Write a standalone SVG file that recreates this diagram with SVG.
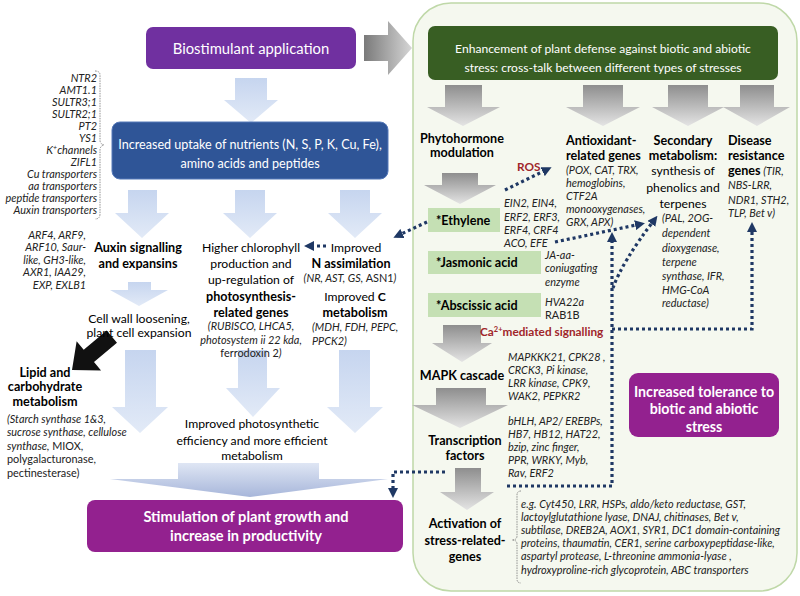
<svg xmlns="http://www.w3.org/2000/svg" width="800" height="596" viewBox="0 0 800 596">
<defs>
<linearGradient id="gBlue" x1="0" y1="0" x2="0" y2="1"><stop offset="0" stop-color="#c6d5ef"/><stop offset="1" stop-color="#e2eaf7"/></linearGradient>
<linearGradient id="gGrey" x1="0" y1="0" x2="0" y2="1"><stop offset="0" stop-color="#8e8e8e"/><stop offset="1" stop-color="#e4e4e4"/></linearGradient>
<linearGradient id="gGreyH" x1="0" y1="0" x2="1" y2="0"><stop offset="0" stop-color="#7a7a7a"/><stop offset="1" stop-color="#d6d6d6"/></linearGradient>
<linearGradient id="gWide" x1="0" y1="0" x2="0" y2="1"><stop offset="0" stop-color="#dfe6f4"/><stop offset="1" stop-color="#a7b6da"/></linearGradient>
<marker id="ah" viewBox="0 0 10 10" refX="6" refY="5" markerWidth="10" markerHeight="10" markerUnits="userSpaceOnUse" orient="auto"><path d="M0,0 L10,5 L0,10 z" fill="#1f3864"/></marker>
</defs>
<style>
text{font-family:Lato,'Open Sans',sans-serif;fill:#000}
.r{font-size:12.2px}
.b{font-size:12.6px;font-weight:bold}
.i{font-size:10.9px;font-style:italic;fill:#222}
.n{font-size:10.9px;fill:#222}
.m{text-anchor:middle}
.e{text-anchor:end}
.w{fill:#fff}
.red{fill:#a0262a;font-weight:bold;font-size:11.8px}
.lg{fill:#c5e0b4}
.hb{font-size:12.6px;font-weight:bold}
.dot{fill:none;stroke:#1f3864;stroke-width:3.2;stroke-dasharray:3 3}
.bl{fill:url(#gBlue)}
.gr{fill:url(#gGrey)}
.br{fill:none;stroke:#777;stroke-width:0.8;stroke-dasharray:1.5 1}
</style>

<g id="panel">
<rect x="413" y="3" width="384" height="588" rx="38" fill="#f5f8ef" stroke="#bfd8a8" stroke-width="1.5"/>
</g>

<g id="block-arrows">
<polygon points="364,35 388,35 388,21 412,48 388,75 388,61 364,61" fill="url(#gGreyH)"/>
<polygon class="bl" points="235,78 267,78 267,100 278,100 251,123 224,100 235,100"/>
<polygon class="bl" points="128,190 157,190 157,213 169,213 142,238 115,213 128,213"/>
<polygon class="bl" points="235,190 265,190 265,213 277,213 250,238 223,213 235,213"/>
<polygon class="bl" points="340,190 370,190 370,213 382,213 355,238 328,213 340,213"/>
<polygon class="bl" points="128,282 151,282 151,290 168,290 139,306 110,290 128,290"/>
<polygon class="bl" points="125,350 156,350 156,407 168,407 140,433 112,407 125,407"/>
<polygon class="bl" points="238,350 267,350 267,388 280,388 253,417 226,388 238,388"/>
<polygon class="bl" points="339,350 370,350 370,407 383,407 355,433 327,407 339,407"/>
<polygon points="178,463 319,463 319,479 388,479 250,497 110,479 178,479" fill="url(#gWide)"/>
<polygon points="0,0 22,-19 22,-8 52,-8 52,8 22,8 22,19" fill="#111" transform="translate(72,370) rotate(-40)"/>
<polygon class="gr" points="445,85 482,85 482,107 500,107 463,126 427,107 445,107"/>
<polygon class="gr" points="583,85 623,85 623,107 640,107 603,126 566,107 583,107"/>
<polygon class="gr" points="668,85 708,85 708,107 724,107 688,126 652,107 668,107"/>
<polygon class="gr" points="740,85 774,85 774,107 790,107 757,126 723,107 740,107"/>
<polygon class="gr" points="442,173 478,173 478,185 496,185 460,204 424,185 442,185"/>
<polygon class="gr" points="443,325 481,325 481,343 492,343 462,362 432,343 443,343"/>
<polygon class="gr" points="436,388 486,388 486,405 508,405 460,428 412,405 436,405"/>
<polygon class="gr" points="455,468 481,468 481,492 494,492 467,510 440,492 455,492"/>
</g>

<g id="biostimulant">
<rect x="146" y="27" width="210" height="42" rx="7" fill="#7030a0"/>
<text class="m w" x="251" y="54" style="font-size:14.8px">Biostimulant application</text>
</g>

<g id="uptake">
<rect x="112" y="122" width="276" height="57" rx="8" fill="#2f5597" stroke="#5478b8" stroke-width="1"/>
<text class="m w" x="250" y="149" style="font-size:12.6px">Increased uptake of nutrients (N, S, P, K, Cu, Fe),</text>
<text class="m w" x="250" y="168" style="font-size:12.6px">amino acids and peptides</text>
</g>

<g id="uptake-genes">
<text class="i e" x="97" y="81.5">NTR2</text>
<text class="i e" x="97" y="93.5">AMT1.1</text>
<text class="i e" x="97" y="105.5">SULTR3;1</text>
<text class="i e" x="97" y="117.5">SULTR2;1</text>
<text class="i e" x="97" y="129.5">PT2</text>
<text class="i e" x="97" y="141.5">YS1</text>
<text class="i e" x="97" y="153.5">K<tspan dy="-4" style="font-size:7px">+</tspan><tspan dy="4">channels</tspan></text>
<text class="i e" x="97" y="165.5">ZIFL1</text>
<text class="i e" x="97" y="177.5">Cu  transporters</text>
<text class="i e" x="97" y="189.5">aa transporters</text>
<text class="i e" x="97" y="201.5">peptide transporters</text>
<text class="i e" x="97" y="213.5">Auxin transporters</text>
<path class="br" d="M95,71 Q100,71 100,75 L100,140 Q100,144 104,145 Q100,146 100,150 L100,214 Q100,219 95,219"/>
</g>

<g id="auxin">
<text class="i e" x="86" y="238.5">ARF4, ARF9,</text>
<text class="i e" x="86" y="251">ARF10, Saur-</text>
<text class="i e" x="86" y="263.5">like, GH3-like,</text>
<text class="i e" x="86" y="276">AXR1, IAA29,</text>
<text class="i e" x="86" y="288.5">EXP, EXLB1</text>
<text class="b m" x="138" y="251.5">Auxin signalling</text>
<text class="b m" x="138" y="267.5">and expansins</text>
</g>

<g id="cellwall">
<text class="r m" x="139" y="322.5">Cell wall loosening,</text>
<text class="r m" x="139" y="336.5">plant cell expansion</text>
</g>

<g id="lipid">
<text class="b m" x="45" y="376.5">Lipid and</text>
<text class="b m" x="45" y="390.5">carbohydrate</text>
<text class="b m" x="45" y="405.5">metabolism</text>
<text class="i" x="7" y="422.5">(Starch synthase 1&amp;3,</text>
<text class="i" x="7" y="436">sucrose synthase, cellulose</text>
<text class="i" x="7" y="449.5">synthase,<tspan style="font-style:normal"> MIOX,</tspan></text>
<text class="n" x="7" y="463">polygalacturonase,</text>
<text class="n" x="7" y="476.5">pectinesterase)</text>
</g>

<g id="chlorophyll">
<text class="r m" x="251" y="251.5">Higher chlorophyll</text>
<text class="r m" x="251" y="267.5">production and</text>
<text class="r m" x="251" y="283.5">up-regulation of</text>
<text class="b m" x="251" y="300.5">photosynthesis-</text>
<text class="b m" x="251" y="316.5">related genes</text>
<text class="i m" x="251" y="330">(RUBISCO, LHCA5,</text>
<text class="i m" x="251" y="344">photosystem ii 22 kda,</text>
<text class="n m" x="251" y="357">ferrodoxin 2<tspan style="font-style:italic">)</tspan></text>
</g>

<g id="nc-assimilation">
<text class="r m" x="356" y="251.5">Improved</text>
<text class="b m" x="351" y="267.5">N assimilation</text>
<text class="i m" x="350" y="281.5">(NR, AST, GS, <tspan style="font-style:normal">ASN1</tspan>)</text>
<text class="r m" x="355" y="300.5">Improved <tspan style="font-weight:bold">C</tspan></text>
<text class="b m" x="355" y="316.5">metabolism</text>
<text class="i" x="312" y="331">(MDH, FDH, PEPC,</text>
<text class="i" x="312" y="344.5">PPCK2)</text>
</g>

<g id="photosynthetic">
<text class="r m" x="252" y="427.5">Improved photosynthetic</text>
<text class="r m" x="252" y="444.5">efficiency and more efficient</text>
<text class="r m" x="252" y="459.5">metabolism</text>
</g>

<g id="stimulation">
<rect x="87" y="500" width="316" height="52" rx="8" fill="#93218f"/>
<text class="m w" x="246" y="522" style="font-size:14.6px;font-weight:bold">Stimulation of plant growth and</text>
<text class="m w" x="246" y="541" style="font-size:14.6px;font-weight:bold">increase in productivity</text>
</g>

<g id="defense">
<rect x="428" y="26" width="350" height="54" rx="7" fill="#385e23"/>
<text class="m w" x="603" y="52.5" style="font-size:12.1px">Enhancement of plant defense against biotic and abiotic</text>
<text class="m w" x="603" y="71.5" style="font-size:12.1px">stress: cross-talk between different types of stresses</text>
</g>

<g id="phytohormone">
<text class="b m" x="462" y="142.5">Phytohormone</text>
<text class="b m" x="462" y="156.5">modulation</text>
</g>

<g id="antioxidant">
<text class="b" x="566" y="144.5">Antioxidant-</text>
<text class="b" x="566" y="159.5">related genes</text>
<text class="i" x="566" y="173.5">(POX, CAT, TRX,</text>
<text class="i" x="566" y="186.5">hemoglobins,</text>
<text class="i" x="566" y="199.5">CTF2A</text>
<text class="i" x="566" y="212.5">monooxygenases,</text>
<text class="i" x="566" y="225.5">GRX, APX)</text>
</g>

<g id="secondary">
<text class="b m" x="683" y="144.5">Secondary</text>
<text class="b m" x="683" y="159.5">metabolism:</text>
<text class="r m" x="683" y="174.5">synthesis of</text>
<text class="r m" x="683" y="191.5">phenolics and</text>
<text class="r m" x="683" y="207.5">terpenes</text>
<text class="i" x="662" y="221.5">(PAL, 2OG-</text>
<text class="i" x="662" y="236.5">dependent</text>
<text class="i" x="662" y="251.5">dioxygenase,</text>
<text class="i" x="662" y="266">terpene</text>
<text class="i" x="662" y="280">synthase, IFR,</text>
<text class="i" x="662" y="293.5">HMG-CoA</text>
<text class="i" x="662" y="306.5">reductase)</text>
</g>

<g id="disease">
<text class="b" x="728" y="144.5">Disease</text>
<text class="b" x="728" y="159.5">resistance</text>
<text class="b" x="728" y="174.5">genes<tspan class="i" style="font-weight:normal"> (TIR,</tspan></text>
<text class="i" x="728" y="188.5">NBS-LRR,</text>
<text class="i" x="728" y="203.5">NDR1, STH2,</text>
<text class="i" x="728" y="216.5">TLP, Bet v)</text>
</g>

<g id="ros">
<text class="red" x="517" y="171">ROS</text>
</g>

<g id="ethylene">
<rect class="lg" x="428" y="208" width="72" height="24"/>
<text class="hb" x="436" y="225">*Ethylene</text>
<text class="i" x="504" y="206.5">EIN2, EIN4,</text>
<text class="i" x="504" y="220.5">ERF2, ERF3,</text>
<text class="i" x="504" y="233.5">ERF4, CRF4</text>
<text class="i" x="504" y="246.5">ACO, EFE</text>
</g>

<g id="jasmonic">
<rect class="lg" x="428" y="251" width="113" height="23"/>
<text class="hb" x="436" y="267">*Jasmonic acid</text>
<text class="i" x="545" y="258.5">JA-aa-</text>
<text class="i" x="545" y="271.5">coniugating</text>
<text class="i" x="545" y="285.5">enzyme</text>
</g>

<g id="abscissic">
<rect class="lg" x="428" y="293" width="113" height="24"/>
<text class="hb" x="436" y="310">*Abscissic acid</text>
<text class="i" x="545" y="305.5">HVA22a</text>
<text class="n" x="545" y="318.5">RAB1B</text>
</g>

<g id="calcium">
<text class="red" x="480" y="336">Ca<tspan dy="-4" style="font-size:7.5px">2+</tspan><tspan dy="4">mediated signalling</tspan></text>
</g>

<g id="mapk">
<text class="b m" x="462" y="379.5">MAPK cascade</text>
<text class="i" x="508" y="360.5">MAPKKK21, CPK28 ,</text>
<text class="i" x="508" y="373.5">CRCK3, Pi kinase,</text>
<text class="i" x="508" y="386.5">LRR kinase, CPK9,</text>
<text class="i" x="508" y="399.5">WAK2, PEPKR2</text>
</g>

<g id="transcription">
<text class="b m" x="465" y="444.5">Transcription</text>
<text class="b m" x="465" y="459.5">factors</text>
<text class="i" x="508" y="424.5">bHLH, AP2/ EREBPs,</text>
<text class="i" x="508" y="437.5">HB7, HB12, HAT22,</text>
<text class="i" x="508" y="450.5">bzip, zinc finger,</text>
<text class="i" x="508" y="463.5">PPR, WRKY, Myb,</text>
<text class="i" x="508" y="476.5">Rav, ERF2</text>
</g>

<g id="activation">
<text class="b m" x="465" y="527.5">Activation of</text>
<text class="b m" x="465" y="544.5">stress-related-</text>
<text class="b m" x="465" y="560.5">genes</text>
<path class="br" d="M521,491 Q517,491 517,495 L517,536 Q517,540 512,540 Q517,540 517,544 L517,579 Q517,583 521,583"/>
<text class="i" x="521" y="507.5">e.g. Cyt450, LRR, HSPs, aldo/keto reductase,  GST,</text>
<text class="i" x="521" y="520.5">lactoylglutathione lyase, DNAJ, chitinases, Bet v,</text>
<text class="i" x="521" y="533.5">subtilase, DREB2A, AOX1, SYR1, DC1 domain-containing</text>
<text class="i" x="521" y="546.5">proteins, thaumatin, CER1, serine carboxypeptidase-like,</text>
<text class="i" x="521" y="560">aspartyl protease, L-threonine ammonia-lyase ,</text>
<text class="i" x="521" y="573.5">hydroxyproline-rich glycoprotein, ABC transporters</text>
</g>

<g id="tolerance">
<rect x="629" y="373" width="150" height="64" rx="9" fill="#93218f"/>
<text class="m w" x="704" y="397" style="font-size:14.2px;font-weight:bold">Increased tolerance to</text>
<text class="m w" x="704" y="414" style="font-size:14.2px;font-weight:bold">biotic and abiotic</text>
<text class="m w" x="704" y="432" style="font-size:14.2px;font-weight:bold">stress</text>
</g>

<g id="connectors">
<path class="dot" d="M505,190 L548,169" marker-end="url(#ah)"/>
<path class="dot" d="M427,222 L397,236" marker-end="url(#ah)"/>
<path class="dot" d="M326,246 L308,246" marker-end="url(#ah)"/>
<path class="dot" d="M555,242 L641,224" marker-end="url(#ah)"/>
<path class="dot" d="M507,486 L612,486 L612,236" marker-end="url(#ah)"/>
<path class="dot" d="M612,329 L752,329 L752,226" marker-end="url(#ah)"/>
<path class="dot" d="M613,288 Q622,262 655,219" marker-end="url(#ah)"/>
<path class="dot" d="M445,472 L393,472 L393,494" marker-end="url(#ah)"/>
</g>
</svg>
